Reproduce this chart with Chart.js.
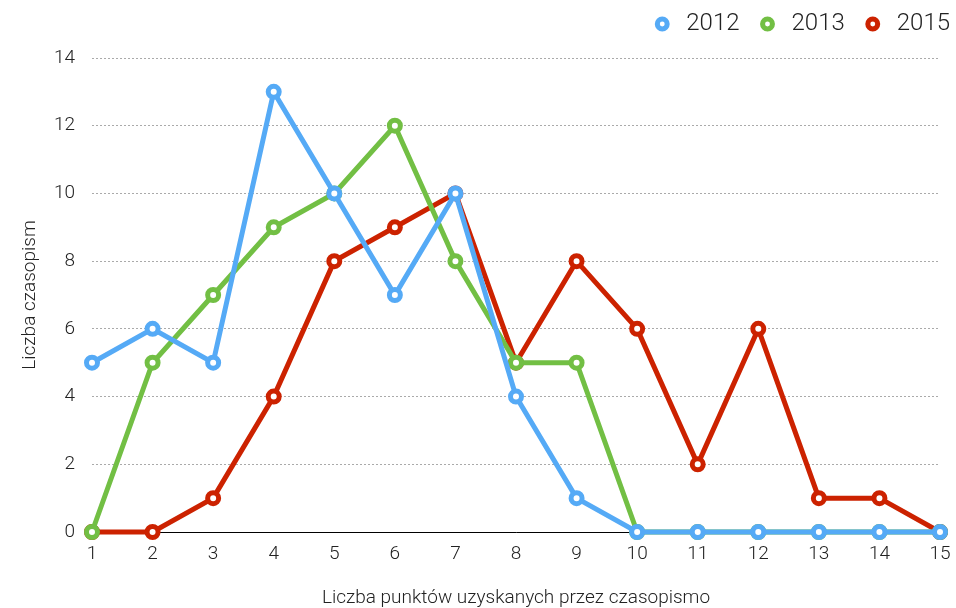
<!DOCTYPE html>
<html>
<head>
<meta charset="utf-8">
<script src="https://cdn.jsdelivr.net/npm/chart.js@4"></script>
<style>
  html, body { margin: 0; padding: 0; background: #fff; }
  #wrap { width: 956px; height: 608px; }
</style>
</head>
<body>
<div id="wrap"><canvas id="chart" width="956" height="608"></canvas></div>
<script>
// punkty 1..15
const points = ['1','2','3','4','5','6','7','8','9','10','11','12','13','14','15'];
const values2012 = [5, 6, 5, 13, 10, 7, 10, 4, 1, 0, 0, 0, 0, 0, 0];
const values2013 = [0, 5, 7, 9, 10, 12, 8, 5, 5, 0, 0, 0, 0, 0, 0];
const values2015 = [0, 0, 1, 4, 8, 9, 10, 5, 8, 6, 2, 6, 1, 1, 0];
const years = ['2012', '2013', '2015'];
const colors = ['#55aaf6', '#72bf44', '#cc2200'];

const font = "'Helvetica Neue', Roboto, 'Liberation Sans', sans-serif";

function series(label, data, color) {
  return {
    label: label,
    data: data,
    borderColor: color,
    backgroundColor: '#fff',
    borderWidth: 5,
    pointRadius: 5.5,
    pointBorderWidth: 5,
    pointBackgroundColor: '#fff',
    pointBorderColor: color,
    pointStyle: 'circle',
    tension: 0,
    clip: false
  };
}

// legenda: stała wysokość i przesunięcie do prawego górnego rogu
const legendTweak = {
  id: 'legendTweak',
  afterInit(chart) {
    const legend = chart.legend;
    const fit = legend.fit;
    legend.fit = function () {
      fit.call(this);
      this.height = 58;
    };
  },
  afterLayout(chart) {
    const l = chart.legend;
    l.left += 10; l.right += 10;
    l.top -= 4; l.bottom -= 4;
  }
};

const ctx = document.getElementById('chart').getContext('2d');
new Chart(ctx, {
  type: 'line',
  data: {
    labels: points,
    datasets: [
      series(years[0], values2012, colors[0]),
      series(years[1], values2013, colors[1]),
      series(years[2], values2015, colors[2])
    ]
  },
  plugins: [legendTweak],
  options: {
    responsive: false,
    animation: false,
    layout: { padding: { left: 19, right: 0, top: 0, bottom: 0 } },
    plugins: {
      tooltip: { enabled: false },
      legend: {
        position: 'top',
        align: 'end',
        labels: {
          usePointStyle: true,
          pointStyle: 'circle',
          boxWidth: 24,
          boxHeight: 7,
          padding: 16,
          color: '#222',
          font: { family: font, size: 24, weight: 300 },
          generateLabels(chart) {
            const items = Chart.defaults.plugins.legend.labels.generateLabels(chart);
            items.forEach(it => { it.lineWidth = 5; it.fillStyle = '#fff'; });
            return items;
          }
        }
      }
    },
    scales: {
      x: {
        afterFit(scale) { scale.height = 76; scale.paddingRight = 16; },
        grid: { display: false },
        border: { display: true, color: '#000', width: 1 },
        ticks: { color: '#222', font: { family: font, size: 19, weight: 300 }, padding: 3 },
        title: {
          display: true,
          text: 'Liczba punktów uzyskanych przez czasopismo',
          color: '#222',
          font: { family: font, size: 19, weight: 300 },
          padding: { top: 6, bottom: -2 }
        }
      },
      y: {
        min: 0,
        max: 14,
        afterFit(scale) { scale.width = 73; },
        ticks: { stepSize: 2, color: '#222', font: { family: font, size: 19, weight: 300 }, padding: 17 },
        grid: { color: '#aaa', lineWidth: 1, drawTicks: false },
        border: { display: false, dash: [2, 2] },
        title: {
          display: true,
          text: 'Liczba czasopism',
          color: '#222',
          font: { family: font, size: 19, weight: 300 },
          padding: { top: 0, bottom: 0 }
        }
      }
    }
  }
});
</script>
</body>
</html>
